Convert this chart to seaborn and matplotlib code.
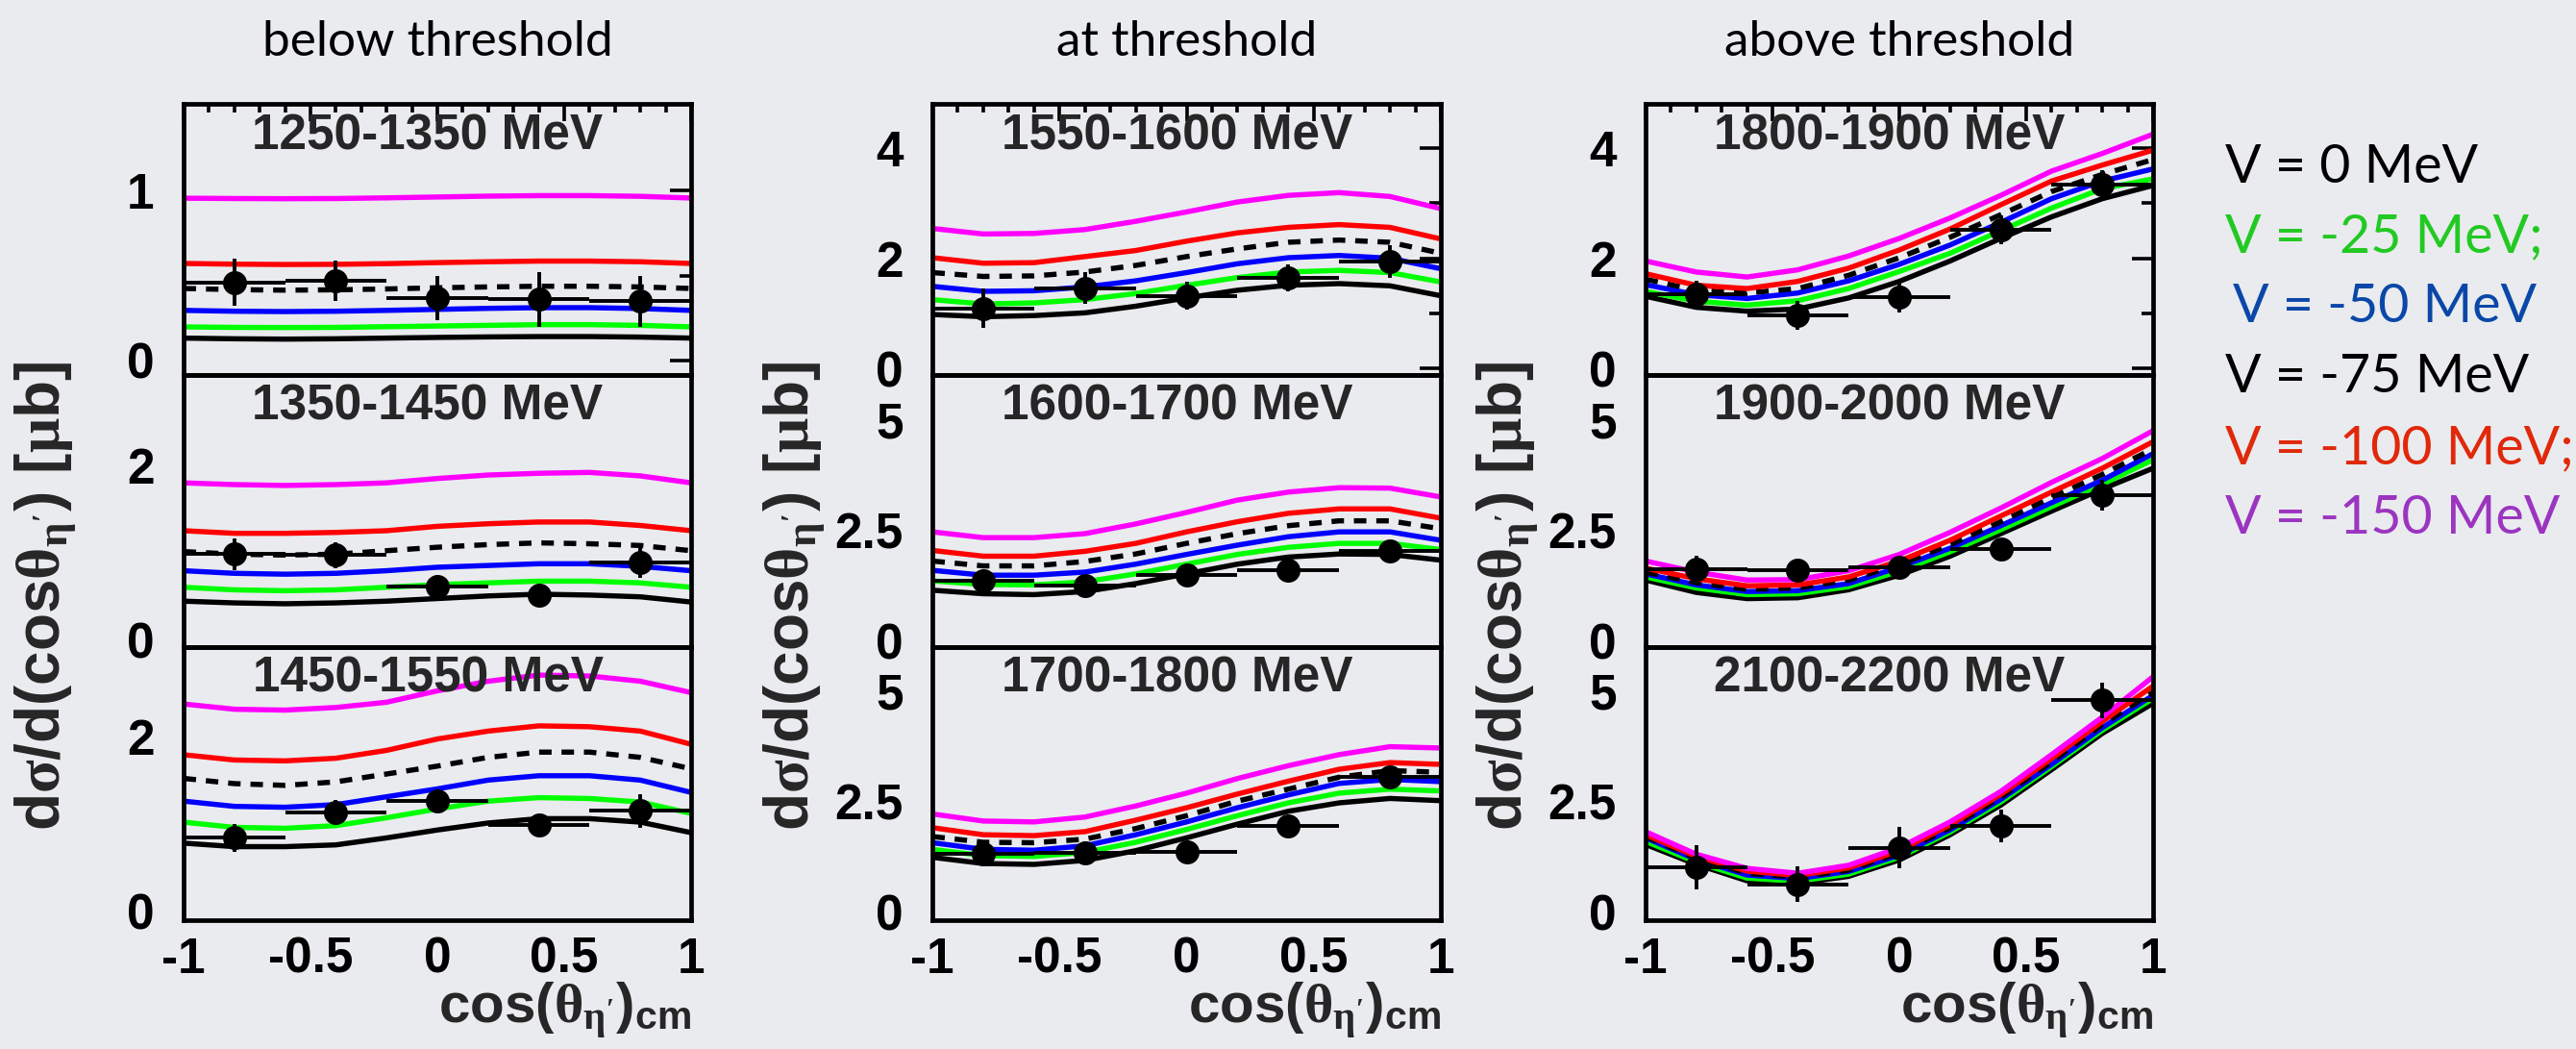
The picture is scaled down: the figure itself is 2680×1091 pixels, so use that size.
import numpy as np
import pandas as pd
import matplotlib
matplotlib.use("Agg")
import matplotlib.pyplot as plt
import seaborn as sns

# ---------------- data ----------------
cos_grid = [-1.0, -0.8, -0.6, -0.4, -0.2, 0.0, 0.2, 0.4, 0.6, 0.8, 1.0]
data_cos = [-0.8, -0.4, 0.0, 0.4, 0.8]
data_xerr = [0.2, 0.2, 0.2, 0.2, 0.2]

potentials = ["V = 0 MeV", "V = -25 MeV;", "V = -50 MeV", "V = -75 MeV", "V = -100 MeV;", "V = -150 MeV"]
curve_colors = ["#000000", "#00ff00", "#0000ff", "#000000", "#ff0000", "#ff00ff"]
legend_colors = ["#000000", "#22c922", "#0a47a8", "#000000", "#e0280a", "#9b35c0"]
column_titles = ["below threshold", "at threshold", "above threshold"]
panel_labels = ["1250-1350 MeV", "1350-1450 MeV", "1450-1550 MeV",
                "1550-1600 MeV", "1600-1700 MeV", "1700-1800 MeV",
                "1800-1900 MeV", "1900-2000 MeV", "2100-2200 MeV"]

# curves: V=0, -25, -50, -75 (dashed), -100, -150
curves_1250 = [
    [0.132, 0.128, 0.126, 0.128, 0.132, 0.136, 0.139, 0.141, 0.141, 0.138, 0.132],
    [0.198, 0.195, 0.194, 0.195, 0.199, 0.203, 0.207, 0.211, 0.211, 0.207, 0.198],
    [0.295, 0.290, 0.288, 0.290, 0.295, 0.301, 0.307, 0.311, 0.311, 0.306, 0.295],
    [0.424, 0.417, 0.414, 0.416, 0.421, 0.428, 0.433, 0.437, 0.437, 0.433, 0.424],
    [0.571, 0.567, 0.565, 0.566, 0.570, 0.576, 0.581, 0.585, 0.585, 0.581, 0.571],
    [0.955, 0.953, 0.952, 0.953, 0.957, 0.962, 0.967, 0.970, 0.970, 0.966, 0.956]]
curves_1350 = [
    [0.44, 0.42, 0.41, 0.42, 0.44, 0.47, 0.50, 0.52, 0.51, 0.49, 0.43],
    [0.60, 0.57, 0.56, 0.57, 0.60, 0.63, 0.65, 0.67, 0.67, 0.65, 0.60],
    [0.79, 0.76, 0.75, 0.76, 0.79, 0.83, 0.85, 0.87, 0.87, 0.84, 0.79],
    [1.01, 0.98, 0.97, 0.98, 1.02, 1.06, 1.09, 1.11, 1.10, 1.08, 1.02],
    [1.25, 1.22, 1.22, 1.23, 1.25, 1.30, 1.33, 1.35, 1.35, 1.31, 1.25],
    [1.80, 1.78, 1.77, 1.78, 1.80, 1.85, 1.89, 1.91, 1.92, 1.88, 1.80]]
curves_1450 = [
    [0.78, 0.74, 0.74, 0.76, 0.84, 0.93, 1.01, 1.06, 1.06, 1.02, 0.90],
    [1.02, 0.96, 0.95, 0.98, 1.07, 1.17, 1.26, 1.30, 1.29, 1.25, 1.12],
    [1.26, 1.20, 1.19, 1.22, 1.31, 1.40, 1.50, 1.55, 1.55, 1.50, 1.36],
    [1.52, 1.46, 1.44, 1.48, 1.57, 1.66, 1.76, 1.82, 1.82, 1.76, 1.63],
    [1.79, 1.73, 1.72, 1.75, 1.84, 1.97, 2.06, 2.12, 2.11, 2.06, 1.91],
    [2.37, 2.31, 2.30, 2.33, 2.39, 2.52, 2.63, 2.70, 2.69, 2.63, 2.50]]
curves_1550 = [
    [0.98, 0.94, 0.96, 1.01, 1.13, 1.28, 1.42, 1.51, 1.54, 1.50, 1.32],
    [1.25, 1.17, 1.19, 1.25, 1.36, 1.51, 1.65, 1.75, 1.78, 1.74, 1.57],
    [1.49, 1.40, 1.41, 1.48, 1.59, 1.74, 1.90, 2.01, 2.05, 2.00, 1.81],
    [1.74, 1.67, 1.68, 1.75, 1.87, 2.03, 2.17, 2.29, 2.33, 2.29, 2.09],
    [2.01, 1.91, 1.92, 2.03, 2.14, 2.31, 2.46, 2.56, 2.61, 2.56, 2.35],
    [2.54, 2.44, 2.45, 2.52, 2.67, 2.84, 3.02, 3.14, 3.19, 3.12, 2.90]]
curves_1600 = [
    [1.15, 1.07, 1.05, 1.12, 1.30, 1.52, 1.74, 1.90, 1.97, 1.96, 1.83],
    [1.36, 1.28, 1.27, 1.34, 1.52, 1.74, 1.96, 2.12, 2.21, 2.21, 2.07],
    [1.60, 1.49, 1.49, 1.56, 1.74, 1.96, 2.17, 2.36, 2.47, 2.47, 2.28],
    [1.81, 1.70, 1.70, 1.80, 1.97, 2.21, 2.43, 2.61, 2.72, 2.72, 2.54],
    [2.05, 1.92, 1.92, 2.03, 2.21, 2.47, 2.70, 2.89, 2.99, 2.99, 2.78],
    [2.47, 2.34, 2.34, 2.43, 2.65, 2.91, 3.19, 3.37, 3.47, 3.46, 3.26]]
curves_1700 = [
    [1.23, 1.09, 1.07, 1.16, 1.38, 1.67, 1.98, 2.27, 2.46, 2.56, 2.51],
    [1.41, 1.27, 1.25, 1.34, 1.57, 1.86, 2.17, 2.46, 2.68, 2.77, 2.73],
    [1.56, 1.41, 1.39, 1.49, 1.74, 2.03, 2.35, 2.64, 2.90, 2.99, 2.94],
    [1.70, 1.57, 1.56, 1.64, 1.88, 2.17, 2.50, 2.77, 3.04, 3.19, 3.15],
    [1.90, 1.74, 1.72, 1.81, 2.07, 2.35, 2.66, 2.95, 3.22, 3.37, 3.33],
    [2.21, 2.05, 2.03, 2.14, 2.39, 2.68, 3.01, 3.30, 3.55, 3.73, 3.70]]
curves_1800 = [
    [1.31, 1.11, 1.04, 1.08, 1.28, 1.58, 1.95, 2.36, 2.75, 3.08, 3.32],
    [1.40, 1.22, 1.15, 1.23, 1.45, 1.76, 2.09, 2.50, 2.91, 3.26, 3.44],
    [1.52, 1.34, 1.27, 1.37, 1.59, 1.89, 2.24, 2.65, 3.08, 3.40, 3.62],
    [1.62, 1.42, 1.37, 1.45, 1.69, 2.01, 2.38, 2.79, 3.21, 3.52, 3.79],
    [1.72, 1.51, 1.45, 1.58, 1.82, 2.15, 2.53, 2.97, 3.40, 3.69, 3.96],
    [1.95, 1.75, 1.66, 1.79, 2.04, 2.36, 2.73, 3.14, 3.58, 3.90, 4.25]]
curves_1900 = [
    [1.38, 1.10, 0.96, 0.98, 1.16, 1.49, 1.92, 2.43, 2.94, 3.44, 3.91],
    [1.45, 1.20, 1.05, 1.07, 1.23, 1.58, 2.02, 2.52, 3.04, 3.55, 4.10],
    [1.52, 1.27, 1.12, 1.14, 1.30, 1.67, 2.10, 2.61, 3.13, 3.64, 4.24],
    [1.56, 1.32, 1.17, 1.20, 1.38, 1.73, 2.18, 2.70, 3.25, 3.77, 4.35],
    [1.65, 1.41, 1.25, 1.27, 1.45, 1.81, 2.28, 2.83, 3.37, 3.91, 4.51],
    [1.81, 1.56, 1.38, 1.39, 1.59, 1.96, 2.46, 3.01, 3.59, 4.13, 4.76]]
curves_2100 = [
    [1.52, 1.07, 0.70, 0.64, 0.80, 1.17, 1.74, 2.41, 3.21, 4.03, 4.71],
    [1.59, 1.12, 0.76, 0.69, 0.85, 1.23, 1.80, 2.48, 3.28, 4.10, 4.82],
    [1.67, 1.18, 0.83, 0.75, 0.91, 1.28, 1.85, 2.54, 3.33, 4.16, 4.89],
    [1.70, 1.21, 0.87, 0.78, 0.94, 1.33, 1.90, 2.59, 3.39, 4.23, 4.96],
    [1.74, 1.25, 0.92, 0.82, 0.99, 1.38, 1.96, 2.65, 3.46, 4.30, 5.10],
    [1.81, 1.30, 0.98, 0.87, 1.05, 1.45, 2.03, 2.72, 3.55, 4.40, 5.31]]

points_1250 = [0.46, 0.47, 0.37, 0.36, 0.35]
errors_1250 = [0.14, 0.12, 0.13, 0.16, 0.15]
points_1350 = [0.98, 0.97, 0.61, 0.51, 0.88]
errors_1350 = [0.18, 0.15, 0.13, 0.13, 0.17]
points_1450 = [0.84, 1.13, 1.26, 0.99, 1.15]
errors_1450 = [0.16, 0.14, 0.13, 0.12, 0.19]
points_1550 = [1.09, 1.46, 1.32, 1.64, 1.94]
errors_1550 = [0.36, 0.29, 0.25, 0.24, 0.29]
points_1600 = [1.36, 1.25, 1.49, 1.60, 2.03]
errors_1600 = [0.25, 0.20, 0.20, 0.20, 0.24]
points_1700 = [1.30, 1.34, 1.35, 1.94, 3.04]
errors_1700 = [0.27, 0.25, 0.10, 0.15, 0.25]
points_1800 = [1.35, 0.97, 1.29, 2.51, 3.34]
errors_1800 = [0.24, 0.26, 0.27, 0.26, 0.25]
points_1900 = [1.63, 1.61, 1.67, 2.09, 3.30]
errors_1900 = [0.31, 0.24, 0.27, 0.24, 0.34]
points_2100 = [1.01, 0.62, 1.45, 1.94, 4.78]
errors_2100 = [0.50, 0.40, 0.46, 0.36, 0.40]

all_curves = [curves_1250, curves_1350, curves_1450, curves_1550, curves_1600,
              curves_1700, curves_1800, curves_1900, curves_2100]
all_points = [points_1250, points_1350, points_1450, points_1550, points_1600,
              points_1700, points_1800, points_1900, points_2100]
all_errors = [errors_1250, errors_1350, errors_1450, errors_1550, errors_1600,
              errors_1700, errors_1800, errors_1900, errors_2100]

xtick_values = [-1, -0.5, 0, 0.5, 1]
xtick_labels = ["-1", "-0.5", "0", "0.5", "1"]

# ---------------- style ----------------
sns.set_theme(style="white")
plt.rcParams['font.family'] = ['Liberation Sans', 'DejaVu Sans']
plt.rcParams['font.weight'] = 'bold'
plt.rcParams['mathtext.fontset'] = 'custom'
plt.rcParams['mathtext.rm'] = 'Liberation Serif'
plt.rcParams['mathtext.it'] = 'Liberation Serif:italic'
plt.rcParams['mathtext.bf'] = 'Liberation Sans:bold'
plt.rcParams['mathtext.sf'] = 'Liberation Sans'

W, H = 2680, 1091
BG = '#e9ebee'
fig = plt.figure(figsize=(W / 100, H / 100), dpi=100, facecolor=BG)

col_x = [(191, 719), (970, 1499), (1712, 2240)]
row_y = [(108, 390), (390, 673), (673, 957)]
ylims = [[(-0.085, 1.51), (-0.088, 3.04), (-0.10, 3.02)],
         [(-0.117, 4.80), (-0.137, 6.02), (-0.19, 5.98)],
         [(-0.117, 4.80), (-0.137, 6.02), (-0.19, 5.98)]]
yticks_major = [[[0, 1], [0, 2], [0, 2]],
                [[0, 2, 4], [0, 2.5, 5], [0, 2.5, 5]],
                [[0, 2, 4], [0, 2.5, 5], [0, 2.5, 5]]]
yticks_minor = [[[0.5], [1], [1]],
                [[1, 3], [], []],
                [[1, 3], [], []]]

palette = dict(zip(potentials, curve_colors))
dashes = {p: "" for p in potentials}
dashes["V = -75 MeV"] = (2.4, 1.9)

ylabel = r"d$\mathrm{\sigma}$/d(cos$\mathrm{\theta_{\eta'}}$) [$\mathrm{\mu}$b]"
xlabel = r"cos($\mathrm{\theta_{\eta'}}$)$_{\mathbf{cm}}$"


def fmt(v):
    return ("%g" % v)


for c in range(3):
    x0, x1 = col_x[c]
    for r in range(3):
        y0, y1 = row_y[r]
        k = c * 3 + r
        ax = fig.add_axes([x0 / W, 1 - y1 / H, (x1 - x0) / W, (y1 - y0) / H])
        ax.set_facecolor('none')
        rows = []
        for name, ys in zip(potentials, all_curves[k]):
            for cx, cy in zip(cos_grid, ys):
                rows.append((cx, cy, name))
        df = pd.DataFrame(rows, columns=['cos', 'dsig', 'V'])
        sns.lineplot(data=df, x='cos', y='dsig', hue='V', style='V',
                     hue_order=potentials, style_order=potentials,
                     palette=palette, dashes=dashes, linewidth=3.9,
                     estimator=None, sort=False, legend=False, ax=ax, zorder=2)
        ax.errorbar(data_cos, all_points[k], xerr=data_xerr, yerr=all_errors[k],
                    fmt='none', ecolor='black', elinewidth=2.8, capsize=0, zorder=4)
        sns.scatterplot(x=data_cos, y=all_points[k], color='black', s=18 ** 2,
                        marker='o', linewidth=0, ax=ax, zorder=5, legend=False)
        ax.set_xlim(-1, 1)
        ax.set_ylim(*ylims[c][r])
        ax.set_xlabel('')
        ax.set_ylabel('')
        for sp in ax.spines.values():
            sp.set_visible(True)
            sp.set_color('black')
            sp.set_linewidth(3.4)
        ax.set_xticks(xtick_values)
        ax.set_xticks(np.round(np.arange(-1, 1.001, 0.1), 2), minor=True)
        if r == 2:
            ax.set_xticklabels(xtick_labels)
        else:
            ax.set_xticklabels([])
        ax.set_yticks(yticks_major[c][r])
        ax.set_yticklabels([fmt(v) for v in yticks_major[c][r]])
        ax.set_yticks(yticks_minor[c][r], minor=True)
        edge = (r == 0)
        ax.tick_params(axis='both', which='both', direction='in', top=edge, right=edge,
                       width=2.6, colors='black')
        ax.tick_params(axis='x', which='major', length=13, pad=12, labelsize=37,
                       labelbottom=(r == 2))
        ax.tick_params(axis='x', which='minor', length=6.5)
        ax.tick_params(axis='y', which='major', length=16, pad=22, labelsize=37)
        ax.tick_params(axis='y', which='minor', length=8.5)
        h = y1 - y0
        ax.text(0.5 - 10 / (x1 - x0), 1 - 47 / h, panel_labels[k], transform=ax.transAxes,
                ha='center', va='baseline', fontsize=37, fontweight='bold', zorder=6)
    # column title, y label, x label
    fig.text((x0 + x1) / 2 / W, 1 - 58 / H, column_titles[c], ha='center', va='baseline',
             fontsize=37, family='Lato', fontweight='normal', color='black')
    fig.text((x0 - 144) / W, 1 - 620 / H, ylabel, rotation=90, ha='center', va='center',
             fontsize=46, fontweight='bold')
    fig.text(x1 / W, 1 - 1064 / H, xlabel, ha='right', va='baseline',
             fontsize=42, fontweight='bold')

legend_baselines = [190, 262, 335, 408, 482, 555]
legend_x = [2315, 2315, 2323, 2315, 2315, 2315]
for name, col, yb, xl in zip(potentials, legend_colors, legend_baselines, legend_x):
    fig.text(xl / W, 1 - yb / H, name, color=col, ha='left', va='baseline',
             fontsize=40, family='Lato', fontweight='normal')

fig.savefig('out.png', dpi=100, facecolor=BG)
